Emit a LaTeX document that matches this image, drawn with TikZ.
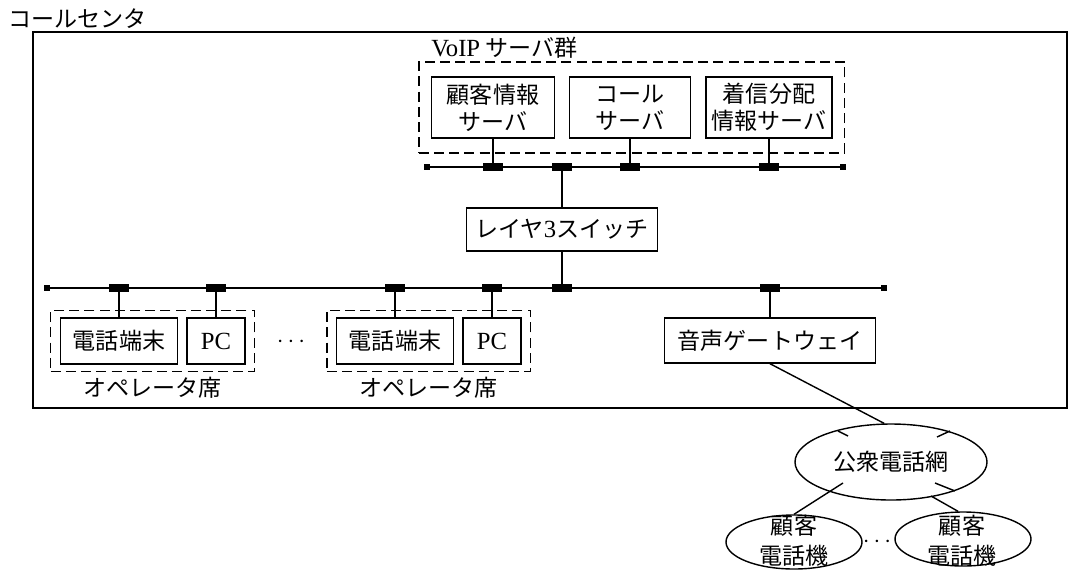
\documentclass[tikz,border=0pt]{standalone}
\usepackage{fontspec}
\setmainfont{Noto Sans CJK JP}
\newfontfamily\romfont[Scale=1.07]{Liberation Serif}
\usetikzlibrary{calc}
\usetikzlibrary{fit}
\usetikzlibrary{positioning}
\usetikzlibrary{shapes.geometric}

\tikzset{
 box/.style={draw, line width=1pt, inner sep=0pt, align=center},
 grp/.style={draw, line width=1pt, dash pattern=on 2.5mm off 1.3mm, inner sep=0pt},
 port/.style={fill=black, inner sep=0pt, minimum width=5mm, minimum height=2mm},
 portend/.style={fill=black, inner sep=0pt, minimum size=1.5mm},
 net/.style={draw, ellipse, line width=1pt, inner sep=0pt},
 wire/.style={line width=1pt},
}

\begin{document}
\begin{tikzpicture}[x=0.25mm, y=-0.25mm, font=\fontsize{16.4}{19.2}\selectfont]
\useasboundingbox (0,0) rectangle (1070,571);
\node[anchor=west, inner sep=0pt] (title) at (8,19) {コールセンタ};
\draw[line width=1pt] (33,32) rectangle (1067,408);

\node[box, minimum width=30.75mm, minimum height=15.25mm] (srvA) at (493,107.5) {顧客情報\\サーバ};
\node[box, minimum width=30.25mm, minimum height=15.25mm] (srvB) at (630,107.5) {コール\\サーバ};
\node[box, minimum width=31.5mm, minimum height=15.25mm] (srvC) at (769,107.5) {着信分配\\情報サーバ};
\node[grp, fit=(srvA)(srvC), inner xsep=3mm, inner ysep=3.6mm] (voip) {};
\node[anchor=west, inner sep=0pt] (voiplbl) at (431,48) {{\romfont VoIP} サーバ群};

\node[portend] (ua) at (427,167) {};
\node[portend] (ub) at (843,167) {};
\foreach \x/\n in {493/pA,562/pS,630/pB,769/pC}
 \node[port] (\n) at (\x,167) {};
\draw[wire] (ua) -- (ub);
\foreach \n/\s in {pA/srvA,pB/srvB,pC/srvC}
 \draw[wire] (\n) -- (\s);

\node[box, minimum width=47.75mm, minimum height=10.75mm] (sw) at (562,229.5) {レイヤ{\romfont 3}スイッチ};

\node[portend] (la) at (47,288) {};
\node[portend] (lb) at (884,288) {};
\foreach \x/\n in {119/q1,216/q2,395/q3,492/q4,562/qS,770/qG}
 \node[port] (\n) at (\x,288) {};
\draw[wire] (la) -- (lb);
\draw[wire] (pS) -- (sw);
\draw[wire] (sw) -- (qS);

\node[box, minimum width=29.25mm, minimum height=11.5mm] (tel1) at (119,341) {電話端末};
\node[box, minimum width=14.5mm, minimum height=11.5mm] (pc1) at (216,341) {\romfont PC};
\node[box, minimum width=29.25mm, minimum height=11.5mm] (tel2) at (395,341) {電話端末};
\node[box, minimum width=14.5mm, minimum height=11.5mm] (pc2) at (492,341) {\romfont PC};
\node[grp, fit=(tel1)(pc1), inner xsep=2.25mm, inner ysep=1.75mm] (seat1) {};
\node[grp, fit=(tel2)(pc2), inner xsep=2.25mm, inner ysep=1.75mm] (seat2) {};
\node[below=0.75mm of seat1, inner sep=1pt] (seat1lbl) {オペレータ席};
\node[below=0.75mm of seat2, inner sep=1pt] (seat2lbl) {オペレータ席};
\node (dotsA) at (291,342) {$\cdots$};
\foreach \n/\s in {q1/tel1,q2/pc1,q3/tel2,q4/pc2}
 \draw[wire] (\n) -- (\s);

\node[box, minimum width=52.75mm, minimum height=11.25mm] (gw) at (770,340.5) {音声ゲートウェイ};
\draw[wire] (qG) -- (gw);

\node[net, minimum width=48mm, minimum height=19mm] (pstn) at (891,462) {公衆電話網};
\node[net, minimum width=34mm, minimum height=13.5mm] (cust1) at (794,542) {};
\node[net, minimum width=34mm, minimum height=13.5mm] (cust2) at (963,539) {};
\node[align=center, inner sep=0pt, font=\fontsize{16.4}{21.3}\selectfont] (cust1txt) at (794,541) {顧客\\電話機};
\node[align=center, inner sep=0pt, font=\fontsize{16.4}{21.3}\selectfont] (cust2txt) at (962,541) {顧客\\電話機};
\node (dotsB) at (877,542) {$\cdots$};

\coordinate (inL) at ($(pstn)+(-48,21)$);
\coordinate (inR) at ($(pstn)+(40,34)$);
\draw[wire] (gw.south) -- (pstn.100);
\draw[wire] (inL) -- (cust1.north);
\draw[wire] (inR) -- (cust2.100);
\draw[wire] ($(pstn)+(-53,-31)$) -- ++(10,5);
\draw[wire] ($(pstn)+(46,-25)$) -- ++(13,-6);
\draw[wire] ($(pstn)+(44,21)$) -- ++(20,8);
\end{tikzpicture}
\end{document}
